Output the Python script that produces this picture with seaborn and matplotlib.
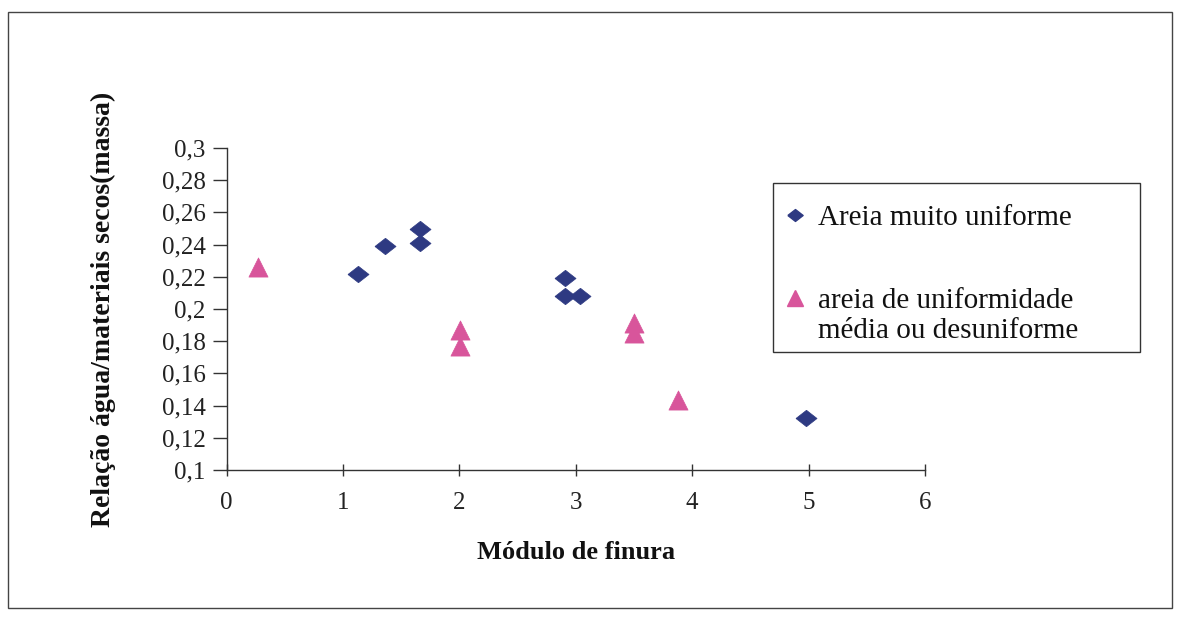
import matplotlib
matplotlib.use("Agg")
import matplotlib.pyplot as plt
import seaborn as sns
import pandas as pd
from matplotlib.patches import Rectangle
from matplotlib.lines import Line2D
from matplotlib.legend_handler import HandlerLine2D
from matplotlib.ticker import FuncFormatter

# ---- data ----
uniform_label = "Areia muito uniforme"
uniform_x = [1.13, 1.36, 1.66, 1.66, 2.91, 2.91, 3.04, 4.98]
uniform_y = [0.222, 0.239, 0.250, 0.241, 0.219, 0.208, 0.208, 0.132]

mixed_label = "areia de uniformidade\nmédia ou desuniforme"
mixed_x = [0.27, 2.01, 2.01, 3.50, 3.50, 3.88]
mixed_y = [0.226, 0.187, 0.177, 0.191, 0.185, 0.1435]

x_ticks = [0, 1, 2, 3, 4, 5, 6]
y_ticks = [0.10, 0.12, 0.14, 0.16, 0.18, 0.20, 0.22, 0.24, 0.26, 0.28, 0.30]

x_label = "Módulo de finura"
y_label = "Relação água/materiais secos(massa)"

blue = "#2e3a82"
pink = "#d8559b"

sns.set_theme(style="white")
plt.rcParams["font.family"] = ["Liberation Serif", "DejaVu Serif"]

W, H = 1184, 617
fig = plt.figure(figsize=(W / 100, H / 100), dpi=100)
ax = fig.add_axes([226.5 / W, 1 - 470 / H, (925 - 226.5) / W, (470 - 148) / H])

df_u = pd.DataFrame({"x": uniform_x, "y": uniform_y})
df_m = pd.DataFrame({"x": mixed_x, "y": mixed_y})

diamond = [(-1, 0), (0, 0.78), (1, 0), (0, -0.78), (-1, 0)]
sns.scatterplot(data=df_u, x="x", y="y", ax=ax, marker=diamond, s=230,
                color=blue, edgecolor=blue, linewidth=0.5, zorder=3, legend=False)
sns.scatterplot(data=df_m, x="x", y="y", ax=ax, marker="^", s=190,
                color=pink, edgecolor=pink, linewidth=0.5, zorder=3, legend=False)

ax.set_xlim(0, 6)
ax.set_ylim(0.1, 0.3)
ax.set_xticks(x_ticks)
ax.set_yticks(y_ticks)
ax.xaxis.set_major_formatter(FuncFormatter(lambda v, p: f"{v:g}"))
ax.yaxis.set_major_formatter(FuncFormatter(lambda v, p: f"{round(v, 2):g}".replace(".", ",")))

for s in ["top", "right"]:
    ax.spines[s].set_visible(False)
for s in ["left", "bottom"]:
    ax.spines[s].set_color("#333333")
    ax.spines[s].set_linewidth(1.0)

ax.tick_params(axis="y", direction="out", length=10, width=1.0, color="#333333",
               labelsize=18, pad=5, left=True, labelcolor="#222222")
ax.tick_params(axis="x", direction="inout", length=9, width=1.0, color="#333333",
               labelsize=18, pad=11, bottom=True, labelcolor="#222222")

ax.set_xlabel(x_label, fontsize=19, fontweight="bold", color="#111111")
ax.set_ylabel(y_label, fontsize=20, fontweight="bold", color="#111111")
ax.xaxis.set_label_coords(0.5, -(541 - 470) / 322)
ax.yaxis.set_label_coords(-(226.5 - 116) / 698.5, 0.5)


class RaisedHandler(HandlerLine2D):
    def __init__(self, offset, **kw):
        super().__init__(**kw)
        self.offset = offset

    def create_artists(self, legend, orig_handle, xdescent, ydescent, width,
                       height, fontsize, trans):
        arts = super().create_artists(legend, orig_handle, xdescent, ydescent,
                                      width, height, fontsize, trans)
        for a in arts:
            a.set_ydata([y + self.offset for y in a.get_ydata()])
        return arts


h_u = Line2D([], [], marker=diamond, linestyle="", color=blue, markersize=11)
h_m = Line2D([], [], marker="^", linestyle="", color=pink, markersize=11)

leg = ax.legend(handles=[h_u, h_m], labels=[uniform_label, mixed_label],
                loc="upper left", bbox_to_anchor=(786 / W, 1 - 205 / H),
                bbox_transform=fig.transFigure, frameon=False,
                fontsize=21, handlelength=0.6, handletextpad=0.5,
                labelspacing=1.95, borderaxespad=0, borderpad=0,
                handler_map={h_m: RaisedHandler(offset=13)})
for t in leg.get_texts():
    t.set_color("#111111")
    t.set_linespacing(1.2)

fig.add_artist(Rectangle((772.7 / W, 1 - 351.7 / H), (1140 - 772.7) / W,
                         (351.7 - 183.3) / H, transform=fig.transFigure,
                         fill=False, edgecolor="#333333", linewidth=1.0))

# outer border
fig.add_artist(Rectangle((8 / W, 1 - 608 / H), (1172 - 8) / W, (608 - 12) / H,
                         transform=fig.transFigure, fill=False,
                         edgecolor="#444444", linewidth=1.0))

fig.savefig("out.png", dpi=100, facecolor="white")
